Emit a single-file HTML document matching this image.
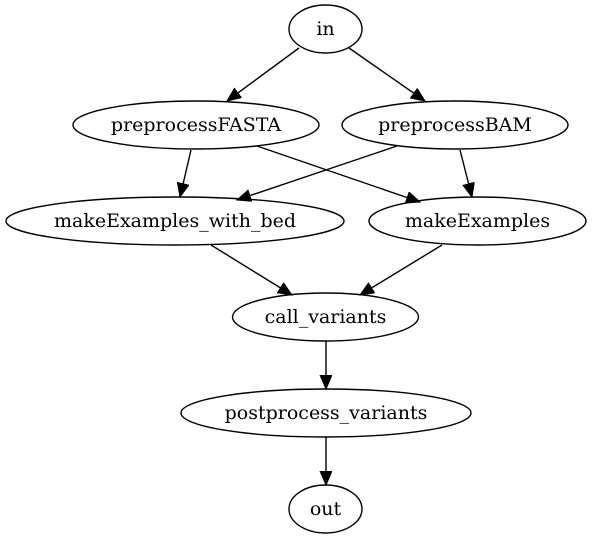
<!DOCTYPE html>
<html><head><meta charset="utf-8"><style>
html,body{margin:0;padding:0;background:#fff;}
svg{display:block;}
text{font-family:"DejaVu Serif","Liberation Serif",serif;font-size:19px;text-anchor:middle;fill:#000;}
ellipse{fill:none;stroke:#000;stroke-width:1.4;}
line{stroke:#000;stroke-width:1.4;}
</style></head><body>
<svg width="592" height="539" viewBox="0 0 592 539" xmlns="http://www.w3.org/2000/svg">
<defs>
<marker id="a" markerUnits="userSpaceOnUse" markerWidth="16" markerHeight="14" refX="14" refY="6" orient="auto">
<polygon points="0,0 14,6 0,12" fill="#000" stroke="#000" stroke-width="1"/>
</marker>
</defs>
<ellipse cx="325.5" cy="29" rx="36.5" ry="24"/>
<text x="325.5" y="35">in</text>
<ellipse cx="196" cy="125" rx="123" ry="24"/>
<text x="196" y="131">preprocessFASTA</text>
<ellipse cx="455" cy="125" rx="113" ry="24"/>
<text x="455" y="131">preprocessBAM</text>
<ellipse cx="175" cy="221" rx="169" ry="24"/>
<text x="175" y="227">makeExamples_with_bed</text>
<ellipse cx="477.5" cy="221" rx="108.5" ry="24"/>
<text x="477.5" y="227">makeExamples</text>
<ellipse cx="325.5" cy="317" rx="93" ry="24"/>
<text x="325.5" y="323">call_variants</text>
<ellipse cx="326" cy="413" rx="145" ry="24"/>
<text x="326" y="419">postprocess_variants</text>
<ellipse cx="325.5" cy="509" rx="36.5" ry="24"/>
<text x="325.5" y="515">out</text>

<line x1="299" y1="48" x2="227" y2="101" marker-end="url(#a)"/>
<line x1="349" y1="48" x2="425" y2="101" marker-end="url(#a)"/>
<line x1="191" y1="150" x2="180" y2="197" marker-end="url(#a)"/>
<line x1="257" y1="146" x2="420" y2="202" marker-end="url(#a)"/>
<line x1="397" y1="146" x2="237" y2="200" marker-end="url(#a)"/>
<line x1="460" y1="150" x2="472" y2="197" marker-end="url(#a)"/>
<line x1="211" y1="245" x2="292" y2="295" marker-end="url(#a)"/>
<line x1="442" y1="245" x2="360" y2="295" marker-end="url(#a)"/>
<line x1="326" y1="341" x2="326" y2="389" marker-end="url(#a)"/>
<line x1="326" y1="437" x2="326" y2="485" marker-end="url(#a)"/>
</svg>
</body></html>
